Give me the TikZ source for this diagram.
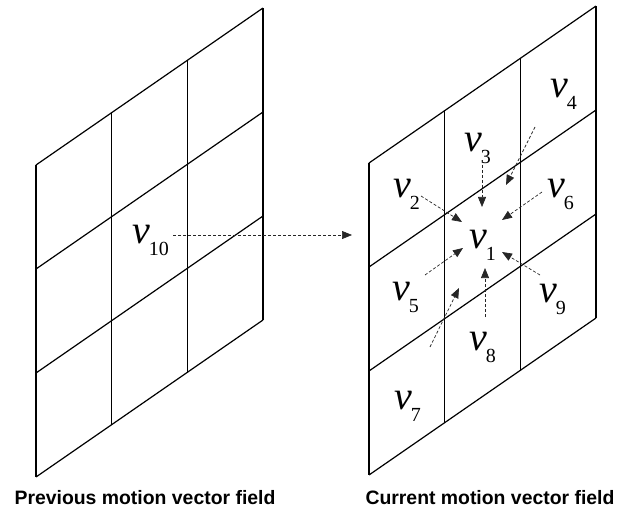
\documentclass[tikz,border=0pt]{standalone}
\usepackage{fontspec}
\setmainfont{Liberation Serif}
\newfontfamily\capfont{Liberation Sans}
\usetikzlibrary{arrows.meta,positioning,calc}
\newcommand\vlab[1]{\textit{v}\kern-1pt\raisebox{-0.3em}{\fontsize{20}{20}\selectfont #1}}

\begin{document}
\begin{tikzpicture}[x=1pt, y=-1pt,
  gridline/.style={line width=1.2pt, draw=black},
  vec/.style={anchor=base west, inner sep=0pt, font=\fontsize{40}{40}\selectfont},
  caption/.style={inner sep=0pt, font=\capfont\bfseries\fontsize{19.4}{20}\selectfont},
  vecarrow/.style={-{Triangle[length=10pt, width=8pt]}, densely dashed, line width=0.7pt, draw=black!85}]
  \useasboundingbox (0,0) rectangle (634,513);
  \foreach \ox/\oy in {36/165, 369/163} {
    \foreach \i in {0,...,3} {
      \draw[gridline] (\ox+75.67*\i, \oy-52.33*\i) -- ++(0,312);
      \draw[gridline] (\ox, \oy+104*\i) -- ++(227,-157);
    }
  }
  \node[vec] (v10) at (132,243) {\vlab{10}};
  \node[vec] (v1) at (469,248) {\vlab{1}};
  \node[vec] (v2) at (393,197) {\vlab{2}};
  \node[vec] (v3) at (464,152) {\vlab{3}};
  \node[vec] (v4) at (550,98) {\vlab{4}};
  \node[vec] (v5) at (392,300) {\vlab{5}};
  \node[vec] (v6) at (547,197) {\vlab{6}};
  \node[vec] (v7) at (394,409) {\vlab{7}};
  \node[vec] (v8) at (469,350) {\vlab{8}};
  \node[vec] (v9) at (539,302) {\vlab{9}};
  \node[caption] (prev) at (145,498) {Previous motion vector field};
  \node[caption] (curr) at (490,498) {Current motion vector field};
  \coordinate (mvhead) at (352,235);
  \coordinate (t2) at (421,196); \coordinate (h2) at (462,222);
  \coordinate (t3) at (482,160); \coordinate (h3) at (482,207);
  \coordinate (t4) at (535,127); \coordinate (h4) at (506,185);
  \coordinate (t5) at (425,275); \coordinate (h5) at (463,248);
  \coordinate (t6) at (542,192); \coordinate (h6) at (502,220);
  \coordinate (t7) at (430,347); \coordinate (h7) at (459,288);
  \coordinate (t8) at (485,317); \coordinate (h8) at (485,268);
  \coordinate (t9) at (540,275); \coordinate (h9) at (502,252);
  \draw[vecarrow] ([xshift=4pt]v10.east |- mvhead) -- (mvhead);
  \foreach \k in {2,...,9} \draw[vecarrow] (t\k) -- (h\k);
\end{tikzpicture}
\end{document}
